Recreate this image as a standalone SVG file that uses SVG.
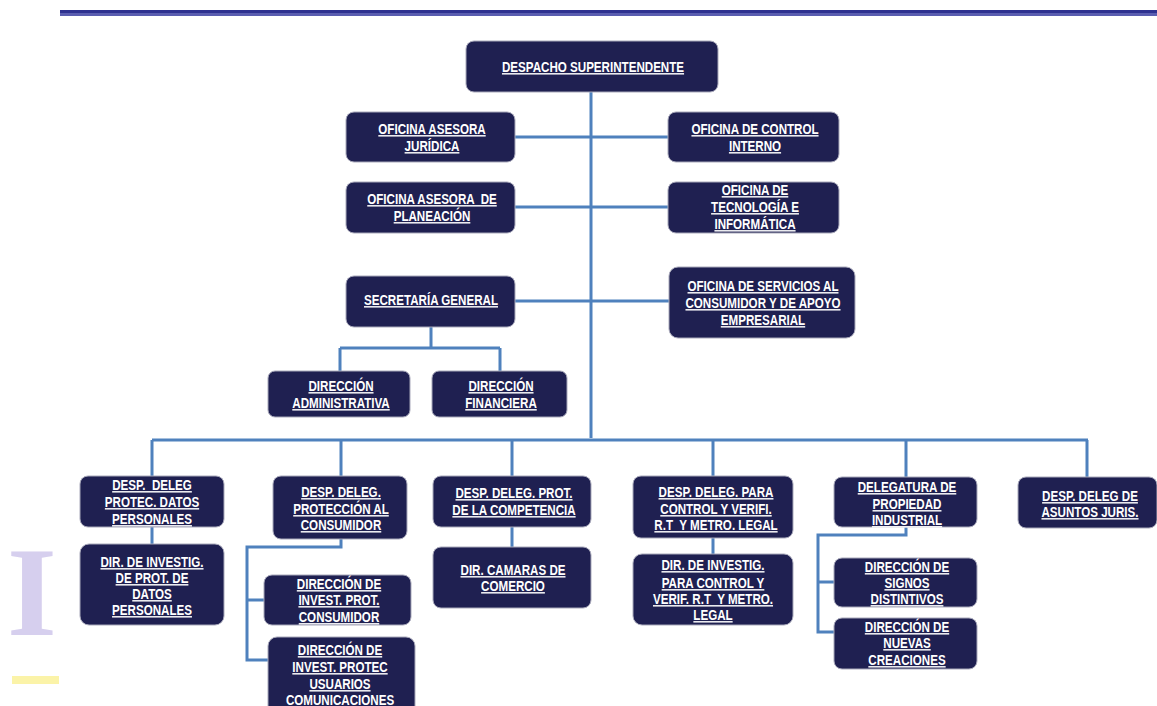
<svg xmlns="http://www.w3.org/2000/svg" width="1157" height="706" viewBox="0 0 1157 706">
<style>
.box{fill:#1f2051;stroke:#a9a9bb;stroke-width:1}
.t{font-family:"Liberation Sans",Arial,sans-serif;font-weight:bold;font-size:14.5px;fill:#ffffff;text-anchor:middle;text-decoration:underline}
.c{fill:none;stroke:#4f81bd;stroke-width:3}
</style>
<rect x="0" y="0" width="1157" height="706" fill="#ffffff"/>
<rect x="60" y="10" width="1097" height="3" fill="#2e3190"/>
<rect x="60" y="13" width="1097" height="3" fill="#5a5db0"/>
<g id="watermark">
<text x="7" y="635" font-family="Liberation Serif" font-weight="bold" font-size="128" fill="#d6cfee">I</text>
<rect x="12" y="676" width="47" height="8" fill="#fbf3a8"/>
</g>
<g id="connectors">
<path class="c" d="M591 92V438"/>
<path class="c" d="M515 137H668M515 207H668M515 301H669"/>
<path class="c" d="M431 327V348M340 348H500M340 348V371M500 348V371"/>
<path class="c" d="M152 440H1088M152 440V476M341 440V476M512 440V476M713 440V476M906 440V477M1087 440V477"/>
<path class="c" d="M152 527V544M512 527V547M713 538V554"/>
<path class="c" d="M341 539V547H247V660H268M247 600H264"/>
<path class="c" d="M906 527V535H818V632H834M818 582H834"/>
</g>
<g id="n-despacho"><rect class="box" x="466" y="41" width="252" height="51" rx="8"/><g transform="translate(593 0) scale(0.8 1)"><text class="t" x="0" y="72">DESPACHO SUPERINTENDENTE</text></g></g>
<g id="n-juridica"><rect class="box" x="346" y="112" width="169" height="50" rx="8"/><g transform="translate(432 0) scale(0.8 1)"><text class="t" x="0" y="134">OFICINA ASESORA</text><text class="t" x="0" y="151">JURÍDICA</text></g></g>
<g id="n-control"><rect class="box" x="668" y="112" width="171" height="50" rx="8"/><g transform="translate(755 0) scale(0.8 1)"><text class="t" x="0" y="134">OFICINA DE CONTROL </text><text class="t" x="0" y="151">INTERNO</text></g></g>
<g id="n-planeacion"><rect class="box" x="346" y="182" width="169" height="51" rx="8"/><g transform="translate(432 0) scale(0.8 1)"><text class="t" x="0" y="204" xml:space="preserve">OFICINA ASESORA  DE</text><text class="t" x="0" y="221">PLANEACIÓN</text></g></g>
<g id="n-tecnologia"><rect class="box" x="668" y="182" width="171" height="51" rx="8"/><g transform="translate(755 0) scale(0.8 1)"><text class="t" x="0" y="195">OFICINA DE </text><text class="t" x="0" y="212">TECNOLOGÍA E</text><text class="t" x="0" y="229">INFORMÁTICA</text></g></g>
<g id="n-secretaria"><rect class="box" x="346" y="276" width="169" height="51" rx="8"/><g transform="translate(431 0) scale(0.8 1)"><text class="t" x="0" y="305">SECRETARÍA GENERAL</text></g></g>
<g id="n-servicios"><rect class="box" x="669" y="267" width="186" height="71" rx="9"/><g transform="translate(763 0) scale(0.8 1)"><text class="t" x="0" y="291">OFICINA DE SERVICIOS AL </text><text class="t" x="0" y="308">CONSUMIDOR Y DE APOYO</text><text class="t" x="0" y="325">EMPRESARIAL</text></g></g>
<g id="n-administrativa"><rect class="box" x="268" y="371" width="142" height="46" rx="7"/><g transform="translate(341 0) scale(0.8 1)"><text class="t" x="0" y="391">DIRECCIÓN </text><text class="t" x="0" y="408">ADMINISTRATIVA</text></g></g>
<g id="n-financiera"><rect class="box" x="432" y="371" width="135" height="46" rx="7"/><g transform="translate(501 0) scale(0.8 1)"><text class="t" x="0" y="391">DIRECCIÓN </text><text class="t" x="0" y="408">FINANCIERA</text></g></g>
<g id="n-datos"><rect class="box" x="80" y="476" width="144" height="51" rx="8"/><g transform="translate(152 0) scale(0.8 1)"><text class="t" x="0" y="490" xml:space="preserve">DESP.  DELEG</text><text class="t" x="0" y="507">PROTEC. DATOS</text><text class="t" x="0" y="524">PERSONALES</text></g></g>
<g id="n-dir-datos"><rect class="box" x="80" y="544" width="144" height="81" rx="9"/><g transform="translate(152 0) scale(0.8 1)"><text class="t" x="0" y="567">DIR. DE INVESTIG.</text><text class="t" x="0" y="583">DE PROT. DE</text><text class="t" x="0" y="599">DATOS </text><text class="t" x="0" y="615">PERSONALES</text></g></g>
<g id="n-consumidor"><rect class="box" x="273" y="476" width="134" height="63" rx="8"/><g transform="translate(341 0) scale(0.8 1)"><text class="t" x="0" y="497">DESP. DELEG.</text><text class="t" x="0" y="514">PROTECCIÓN AL</text><text class="t" x="0" y="530">CONSUMIDOR</text></g></g>
<g id="n-dir-consumidor"><rect class="box" x="264" y="575" width="147" height="50" rx="8"/><g transform="translate(339 0) scale(0.8 1)"><text class="t" x="0" y="589">DIRECCIÓN DE</text><text class="t" x="0" y="605">INVEST. PROT.</text><text class="t" x="0" y="622">CONSUMIDOR</text></g></g>
<g id="n-usuarios"><rect class="box" x="268" y="637" width="147" height="80" rx="9"/><g transform="translate(340 0) scale(0.8 1)"><text class="t" x="0" y="655">DIRECCIÓN DE</text><text class="t" x="0" y="672">INVEST. PROTEC </text><text class="t" x="0" y="689">USUARIOS</text><text class="t" x="0" y="705">COMUNICACIONES</text></g></g>
<g id="n-competencia"><rect class="box" x="433" y="476" width="158" height="51" rx="8"/><g transform="translate(514 0) scale(0.8 1)"><text class="t" x="0" y="498">DESP. DELEG. PROT.</text><text class="t" x="0" y="515">DE LA COMPETENCIA</text></g></g>
<g id="n-camaras"><rect class="box" x="433" y="547" width="158" height="61" rx="8"/><g transform="translate(513 0) scale(0.8 1)"><text class="t" x="0" y="575">DIR. CAMARAS DE</text><text class="t" x="0" y="591">COMERCIO</text></g></g>
<g id="n-verifi"><rect class="box" x="633" y="476" width="160" height="62" rx="8"/><g transform="translate(716 0) scale(0.8 1)"><text class="t" x="0" y="497">DESP. DELEG. PARA </text><text class="t" x="0" y="514">CONTROL Y VERIFI.</text><text class="t" x="0" y="530" xml:space="preserve">R.T  Y METRO. LEGAL</text></g></g>
<g id="n-dir-verifi"><rect class="box" x="633" y="554" width="160" height="71" rx="9"/><g transform="translate(713 0) scale(0.8 1)"><text class="t" x="0" y="570">DIR. DE INVESTIG.</text><text class="t" x="0" y="588">PARA CONTROL Y </text><text class="t" x="0" y="604" xml:space="preserve">VERIF. R.T  Y METRO.</text><text class="t" x="0" y="620">LEGAL</text></g></g>
<g id="n-propiedad"><rect class="box" x="834" y="477" width="143" height="50" rx="8"/><g transform="translate(907 0) scale(0.8 1)"><text class="t" x="0" y="492">DELEGATURA DE</text><text class="t" x="0" y="509">PROPIEDAD </text><text class="t" x="0" y="525">INDUSTRIAL</text></g></g>
<g id="n-juris"><rect class="box" x="1018" y="477" width="139" height="51" rx="8"/><g transform="translate(1090 0) scale(0.8 1)"><text class="t" x="0" y="501">DESP. DELEG DE </text><text class="t" x="0" y="517">ASUNTOS JURIS.</text></g></g>
<g id="n-signos"><rect class="box" x="834" y="558" width="143" height="49" rx="8"/><g transform="translate(907 0) scale(0.8 1)"><text class="t" x="0" y="572">DIRECCIÓN DE</text><text class="t" x="0" y="588">SIGNOS </text><text class="t" x="0" y="604">DISTINTIVOS</text></g></g>
<g id="n-nuevas"><rect class="box" x="834" y="618" width="143" height="51" rx="8"/><g transform="translate(907 0) scale(0.8 1)"><text class="t" x="0" y="632">DIRECCIÓN DE</text><text class="t" x="0" y="648">NUEVAS </text><text class="t" x="0" y="665">CREACIONES</text></g></g>
</svg>
